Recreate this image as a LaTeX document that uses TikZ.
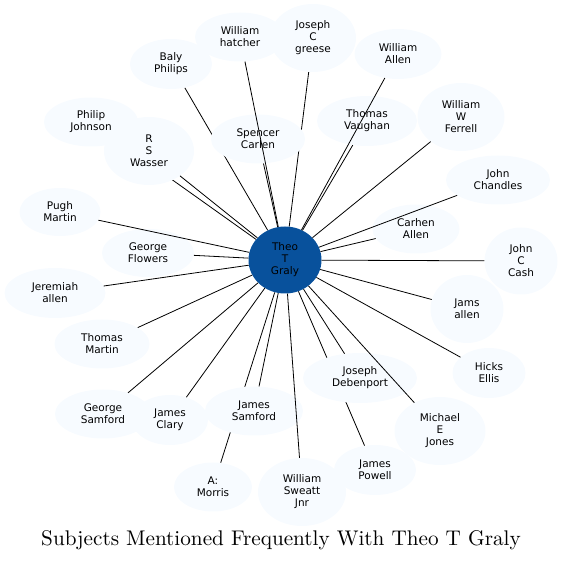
\documentclass[tikz,border=0pt]{standalone}
\usepackage{fontspec}
\setsansfont{DejaVu Sans}
\newfontfamily\titlefont{lmroman10-regular}[Extension=.otf]
\usetikzlibrary{shapes.geometric,backgrounds}
\definecolor{nodefill}{HTML}{F7FBFF}
\definecolor{centerfill}{HTML}{08519C}
\begin{document}
\begin{tikzpicture}[x=1pt,y=-1pt,
  person/.style 2 args={ellipse, fill=nodefill, inner sep=0pt, align=center,
    minimum width=#1, minimum height=#2,
    font=\sffamily\fontsize{10.5}{12}\selectfont},
  hub/.style={ellipse, fill=centerfill, inner sep=0pt, align=center,
    minimum width=73pt, minimum height=67pt,
    font=\sffamily\fontsize{10.5}{12}\selectfont},
  link/.style={draw=black, line width=0.8pt}]
\useasboundingbox (0,0) rectangle (563,561);

% nodes
\node[person={90pt}{49pt}] (hatcher) at (240,37) {William\\hatcher};
\node[person={86pt}{68pt}] (greese) at (313,38) {Joseph\\C\\greese};
\node[person={82pt}{50pt}] (baly) at (171,64) {Baly\\Philips};
\node[person={87pt}{50pt}] (wallen) at (398,54) {William\\Allen};
\node[person={94pt}{49pt}] (philip) at (91,122) {Philip\\Johnson};
\node[person={90pt}{68pt}] (wasser) at (149,151) {R\\S\\Wasser};
\node[person={94pt}{49pt}] (spencer) at (258,139) {Spencer\\Carlen};
\node[person={100pt}{50pt}] (vaughan) at (367,121) {Thomas\\Vaughan};
\node[person={87pt}{68pt}] (ferrell) at (461,117) {William\\W\\Ferrell};
\node[person={104pt}{49pt}] (chandles) at (498,180) {John\\Chandles};
\node[person={81pt}{48pt}] (pugh) at (60,212) {Pugh\\Martin};
\node[person={87pt}{49pt}] (carhen) at (416,229) {Carhen\\Allen};
\node[person={92pt}{48pt}] (flowers) at (148,253) {George\\Flowers};
\node[person={73pt}{67pt}] (cash) at (521,261) {John\\C\\Cash};
\node[person={101pt}{50pt}] (jeremiah) at (55,293) {Jeremiah\\allen};
\node[person={73pt}{68pt}] (jams) at (467,309) {Jams\\allen};
\node[person={95pt}{49pt}] (tmartin) at (102,344) {Thomas\\Martin};
\node[person={114pt}{50pt}] (debenport) at (360,378) {Joseph\\Debenport};
\node[person={73pt}{50pt}] (hicks) at (489,373) {Hicks\\Ellis};
\node[person={96pt}{49pt}] (gsamford) at (103,414) {George\\Samford};
\node[person={76pt}{50pt}] (clary) at (170,420) {James\\Clary};
\node[person={98pt}{49pt}] (jsamford) at (254,411) {James\\Samford};
\node[person={91pt}{68pt}] (jones) at (440,431) {Michael\\E\\Jones};
\node[person={82pt}{50pt}] (powell) at (375,470) {James\\Powell};
\node[person={78pt}{49pt}] (morris) at (213,487) {A:\\Morris};
\node[person={88pt}{68pt}] (sweatt) at (302,492) {William\\Sweatt\\Jnr};
\node[hub] (theo) at (285,260) {Theo\\T\\Graly};

% edges hidden behind other nodes
\begin{pgfonlayer}{background}
\draw[link] (theo) -- (baly);
\draw[link] (theo) -- (greese);
\draw[link] (theo) -- (philip);
\draw[link] (theo) -- (morris);
\draw[link] (theo) -- (powell);
\end{pgfonlayer}

% visible edges
\foreach \t in {hatcher,wallen,wasser,spencer,vaughan,ferrell,chandles,pugh,
  carhen,flowers,cash,jeremiah,jams,tmartin,debenport,hicks,gsamford,clary,
  jsamford,jones,sweatt}
  \draw[link] (theo) -- (\t);

% title
\node[anchor=base, font=\titlefont\fontsize{21.2}{24}\selectfont] (title) at (281,546)
  {Subjects Mentioned Frequently With Theo T Graly};
\end{tikzpicture}
\end{document}
